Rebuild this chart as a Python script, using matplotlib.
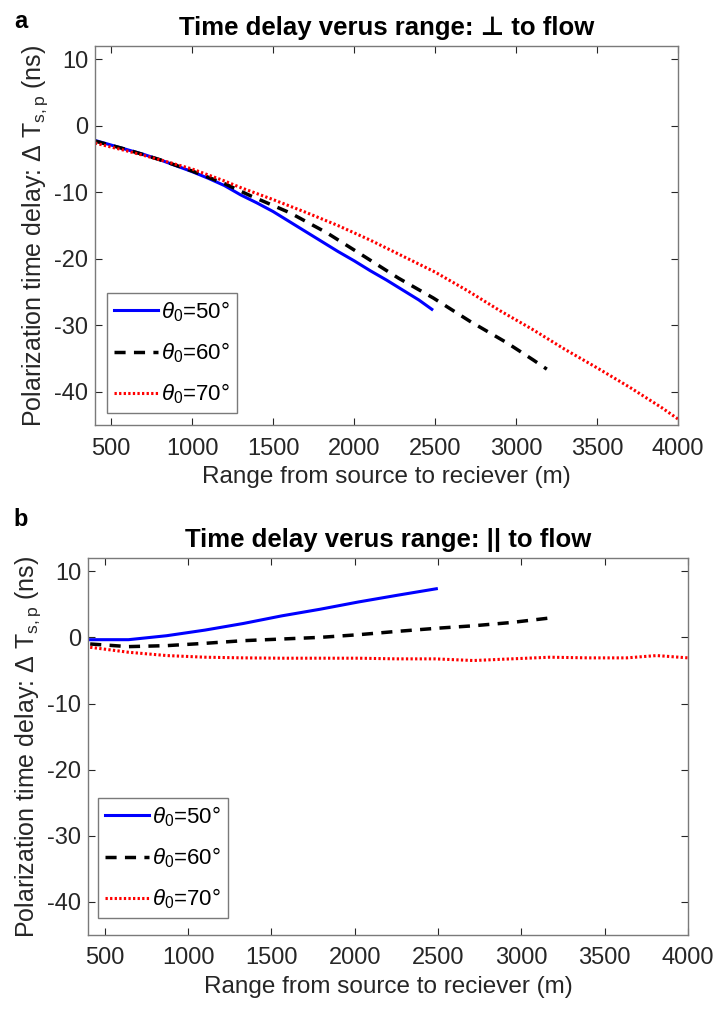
import matplotlib
matplotlib.use("Agg")
import matplotlib.pyplot as plt

plt.rcParams['font.family'] = ['Liberation Sans', 'DejaVu Sans']
plt.rcParams['mathtext.fontset'] = 'custom'
plt.rcParams['mathtext.rm'] = 'Liberation Sans'
plt.rcParams['mathtext.it'] = 'Liberation Sans:italic'
plt.rcParams['mathtext.bf'] = 'Liberation Sans:bold'
plt.rcParams['axes.unicode_minus'] = False

# panel a: perpendicular to flow
a_x50 = [400, 500, 600, 700, 800, 900, 1000, 1100, 1200, 1300, 1400, 1500, 1600,
         1700, 1800, 1900, 2000, 2100, 2200, 2300, 2400, 2480]
a_y50 = [-2.2, -2.9, -3.6, -4.3, -5.1, -6.0, -6.9, -7.9, -9.0, -10.4, -11.6, -12.9,
         -14.4, -15.9, -17.4, -18.9, -20.3, -21.8, -23.2, -24.7, -26.2, -27.6]
a_x60 = [400, 600, 800, 1000, 1200, 1358, 1482, 1605, 1832, 2047, 2273, 2489,
         2715, 2941, 3105, 3190]
a_y60 = [-2.3, -3.6, -5.1, -6.8, -8.7, -10.5, -11.8, -13.1, -16.1, -19.4, -22.9,
         -25.9, -29.4, -32.6, -35.2, -36.6]
a_x70 = [400, 600, 800, 1000, 1200, 1300, 1500, 1700, 1900, 2100, 2300, 2500,
         2700, 2900, 3100, 3300, 3500, 3700, 3900, 4000]
a_y70 = [-2.6, -3.8, -5.1, -6.5, -8.3, -9.3, -11.1, -13.0, -15.0, -17.2, -19.6,
         -22.0, -24.8, -27.8, -30.6, -33.6, -36.4, -39.3, -42.4, -44.1]

# panel b: parallel to flow
b_x50 = [413, 643, 872, 1102, 1332, 1562, 1792, 2022, 2252, 2490]
b_y50 = [-0.35, -0.35, 0.25, 1.1, 2.1, 3.25, 4.25, 5.35, 6.35, 7.35]
b_x60 = [413, 643, 872, 1102, 1332, 1562, 1792, 2022, 2252, 2505, 2712, 2941, 3195]
b_y60 = [-1.0, -1.4, -1.25, -0.9, -0.5, -0.25, 0.0, 0.4, 0.9, 1.4, 1.75, 2.25, 3.0]
b_x70 = [413, 643, 872, 1102, 1332, 1562, 1792, 2022, 2252, 2482, 2712, 2941,
         3172, 3402, 3632, 3812, 4000]
b_y70 = [-1.5, -2.25, -2.75, -3.0, -3.1, -3.15, -3.15, -3.15, -3.25, -3.25, -3.5,
         -3.25, -3.0, -3.1, -3.1, -2.75, -3.1]

labels = [r'$\theta_0$=50°', r'$\theta_0$=60°', r'$\theta_0$=70°']
xticks = [500, 1000, 1500, 2000, 2500, 3000, 3500, 4000]
yticks = [-40, -30, -20, -10, 0, 10]

W, H = 721, 1009
fig = plt.figure(figsize=(W / 100, H / 100), dpi=100)
ax_a = fig.add_axes([95 / W, 1 - 425 / H, 583 / W, 379 / H])
ax_b = fig.add_axes([88 / W, 1 - 935 / H, 600 / W, 377 / H])

GREY = '#262626'


def style(ax, title, series, leg_pad):
    (x1, y1), (x2, y2), (x3, y3) = series
    ax.plot(x1, y1, color='#0000ff', lw=2.2, label=labels[0])
    ax.plot(x2, y2, color='black', lw=2.5, ls=(0, (3.2, 2.4)), label=labels[1])
    ax.plot(x3, y3, color='#ff0000', lw=2.2, ls=(0, (0.75, 0.75)), label=labels[2])
    ax.set_xlim(400, 4000)
    ax.set_ylim(-45, 12)
    ax.set_xticks(xticks)
    ax.set_yticks(yticks)
    ax.tick_params(direction='in', length=5, width=0.8, labelsize=17,
                   colors=GREY, top=True, right=True)
    ax.tick_params(axis='x', pad=9)
    ax.tick_params(axis='y', pad=5)
    for s in ax.spines.values():
        s.set_color('#7a7a7a')
        s.set_linewidth(1.0)
    ax.set_xlabel('Range from source to reciever (m)', fontsize=17.5, color=GREY,
                  labelpad=5)
    ax.set_ylabel(r'Polarization time delay: Δ T$_{\rm s,p}$ (ns)', fontsize=18,
                  color=GREY, labelpad=3)
    ax.set_title(title, fontsize=18.5, fontweight='bold', pad=8)
    leg = ax.legend(loc='lower left', fontsize=16, handlelength=2.0,
                    handletextpad=0.15, borderpad=0.3, labelspacing=0.75,
                    borderaxespad=0, bbox_to_anchor=leg_pad,
                    fancybox=False, framealpha=1)
    leg.get_frame().set_edgecolor('#7a7a7a')
    leg.get_frame().set_linewidth(1.0)


style(ax_a, 'Time delay verus range: ⊥ to flow',
      [(a_x50, a_y50), (a_x60, a_y60), (a_x70, a_y70)], (12 / 583, 12 / 379))
style(ax_b, 'Time delay verus range: || to flow',
      [(b_x50, b_y50), (b_x60, b_y60), (b_x70, b_y70)], (10 / 600, 17 / 377))

fig.text(21 / W, 1 - 21 / H, 'a', fontsize=17, fontweight='bold', ha='center', va='center')
fig.text(21 / W, 1 - 520 / H, 'b', fontsize=17, fontweight='bold', ha='center', va='center')

fig.savefig('out.png', dpi=100)
